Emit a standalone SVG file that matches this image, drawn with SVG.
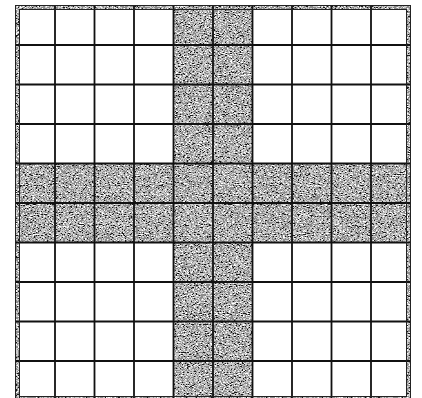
<svg xmlns="http://www.w3.org/2000/svg" width="422" height="398" viewBox="0 0 422 398">
<defs>
<filter id="noise" filterUnits="userSpaceOnUse" x="0" y="0" width="422" height="410" color-interpolation-filters="sRGB">
<feTurbulence type="fractalNoise" baseFrequency="0.55 1.1" numOctaves="2" seed="7" result="t"/>
<feColorMatrix in="t" type="matrix" values="1 0 0 0 0  1 0 0 0 0  1 0 0 0 0  0 0 0 0 1" result="g"/>
<feComponentTransfer in="g">
<feFuncR type="discrete" tableValues="0 0.1 0.55 0.8 1 1"/>
<feFuncG type="discrete" tableValues="0 0.1 0.55 0.8 1 1"/>
<feFuncB type="discrete" tableValues="0 0.1 0.55 0.8 1 1"/>
</feComponentTransfer>
</filter>
<clipPath id="shade">
<rect x="173.5" y="5.5" width="79" height="395"/>
<rect x="15.5" y="163.5" width="395" height="79"/>
<path d="M15,5 H411 V401 H15 Z M20,10 V396 H406 V10 Z" clip-rule="evenodd"/>
</clipPath>
<style>
.grid line { stroke:#111; stroke-width:1.8; }
</style>
</defs>
<rect width="422" height="398" fill="#fff"/>
<g id="texture" clip-path="url(#shade)">
<rect x="0" y="0" width="422" height="410" fill="#fff" filter="url(#noise)"/>
</g>
<g id="grid" class="grid">
<line x1="55" y1="5" x2="55" y2="401"/>
<line x1="94.5" y1="5" x2="94.5" y2="401"/>
<line x1="134" y1="5" x2="134" y2="401"/>
<line x1="173.5" y1="5" x2="173.5" y2="401"/>
<line x1="213" y1="5" x2="213" y2="401"/>
<line x1="252.5" y1="5" x2="252.5" y2="401"/>
<line x1="292" y1="5" x2="292" y2="401"/>
<line x1="331.5" y1="5" x2="331.5" y2="401"/>
<line x1="371" y1="5" x2="371" y2="401"/>
<line x1="15" y1="45" x2="411" y2="45"/>
<line x1="15" y1="84.5" x2="411" y2="84.5"/>
<line x1="15" y1="124" x2="411" y2="124"/>
<line x1="15" y1="163.5" x2="411" y2="163.5"/>
<line x1="15" y1="203" x2="411" y2="203"/>
<line x1="15" y1="242.5" x2="411" y2="242.5"/>
<line x1="15" y1="282" x2="411" y2="282"/>
<line x1="15" y1="321.5" x2="411" y2="321.5"/>
<line x1="15" y1="361" x2="411" y2="361"/>
</g>
<g id="frame" fill="none" stroke="#222" stroke-width="1">
<rect x="15.5" y="5.5" width="395" height="395"/>
<rect x="19.5" y="9.5" width="387" height="387"/>
</g>
</svg>
